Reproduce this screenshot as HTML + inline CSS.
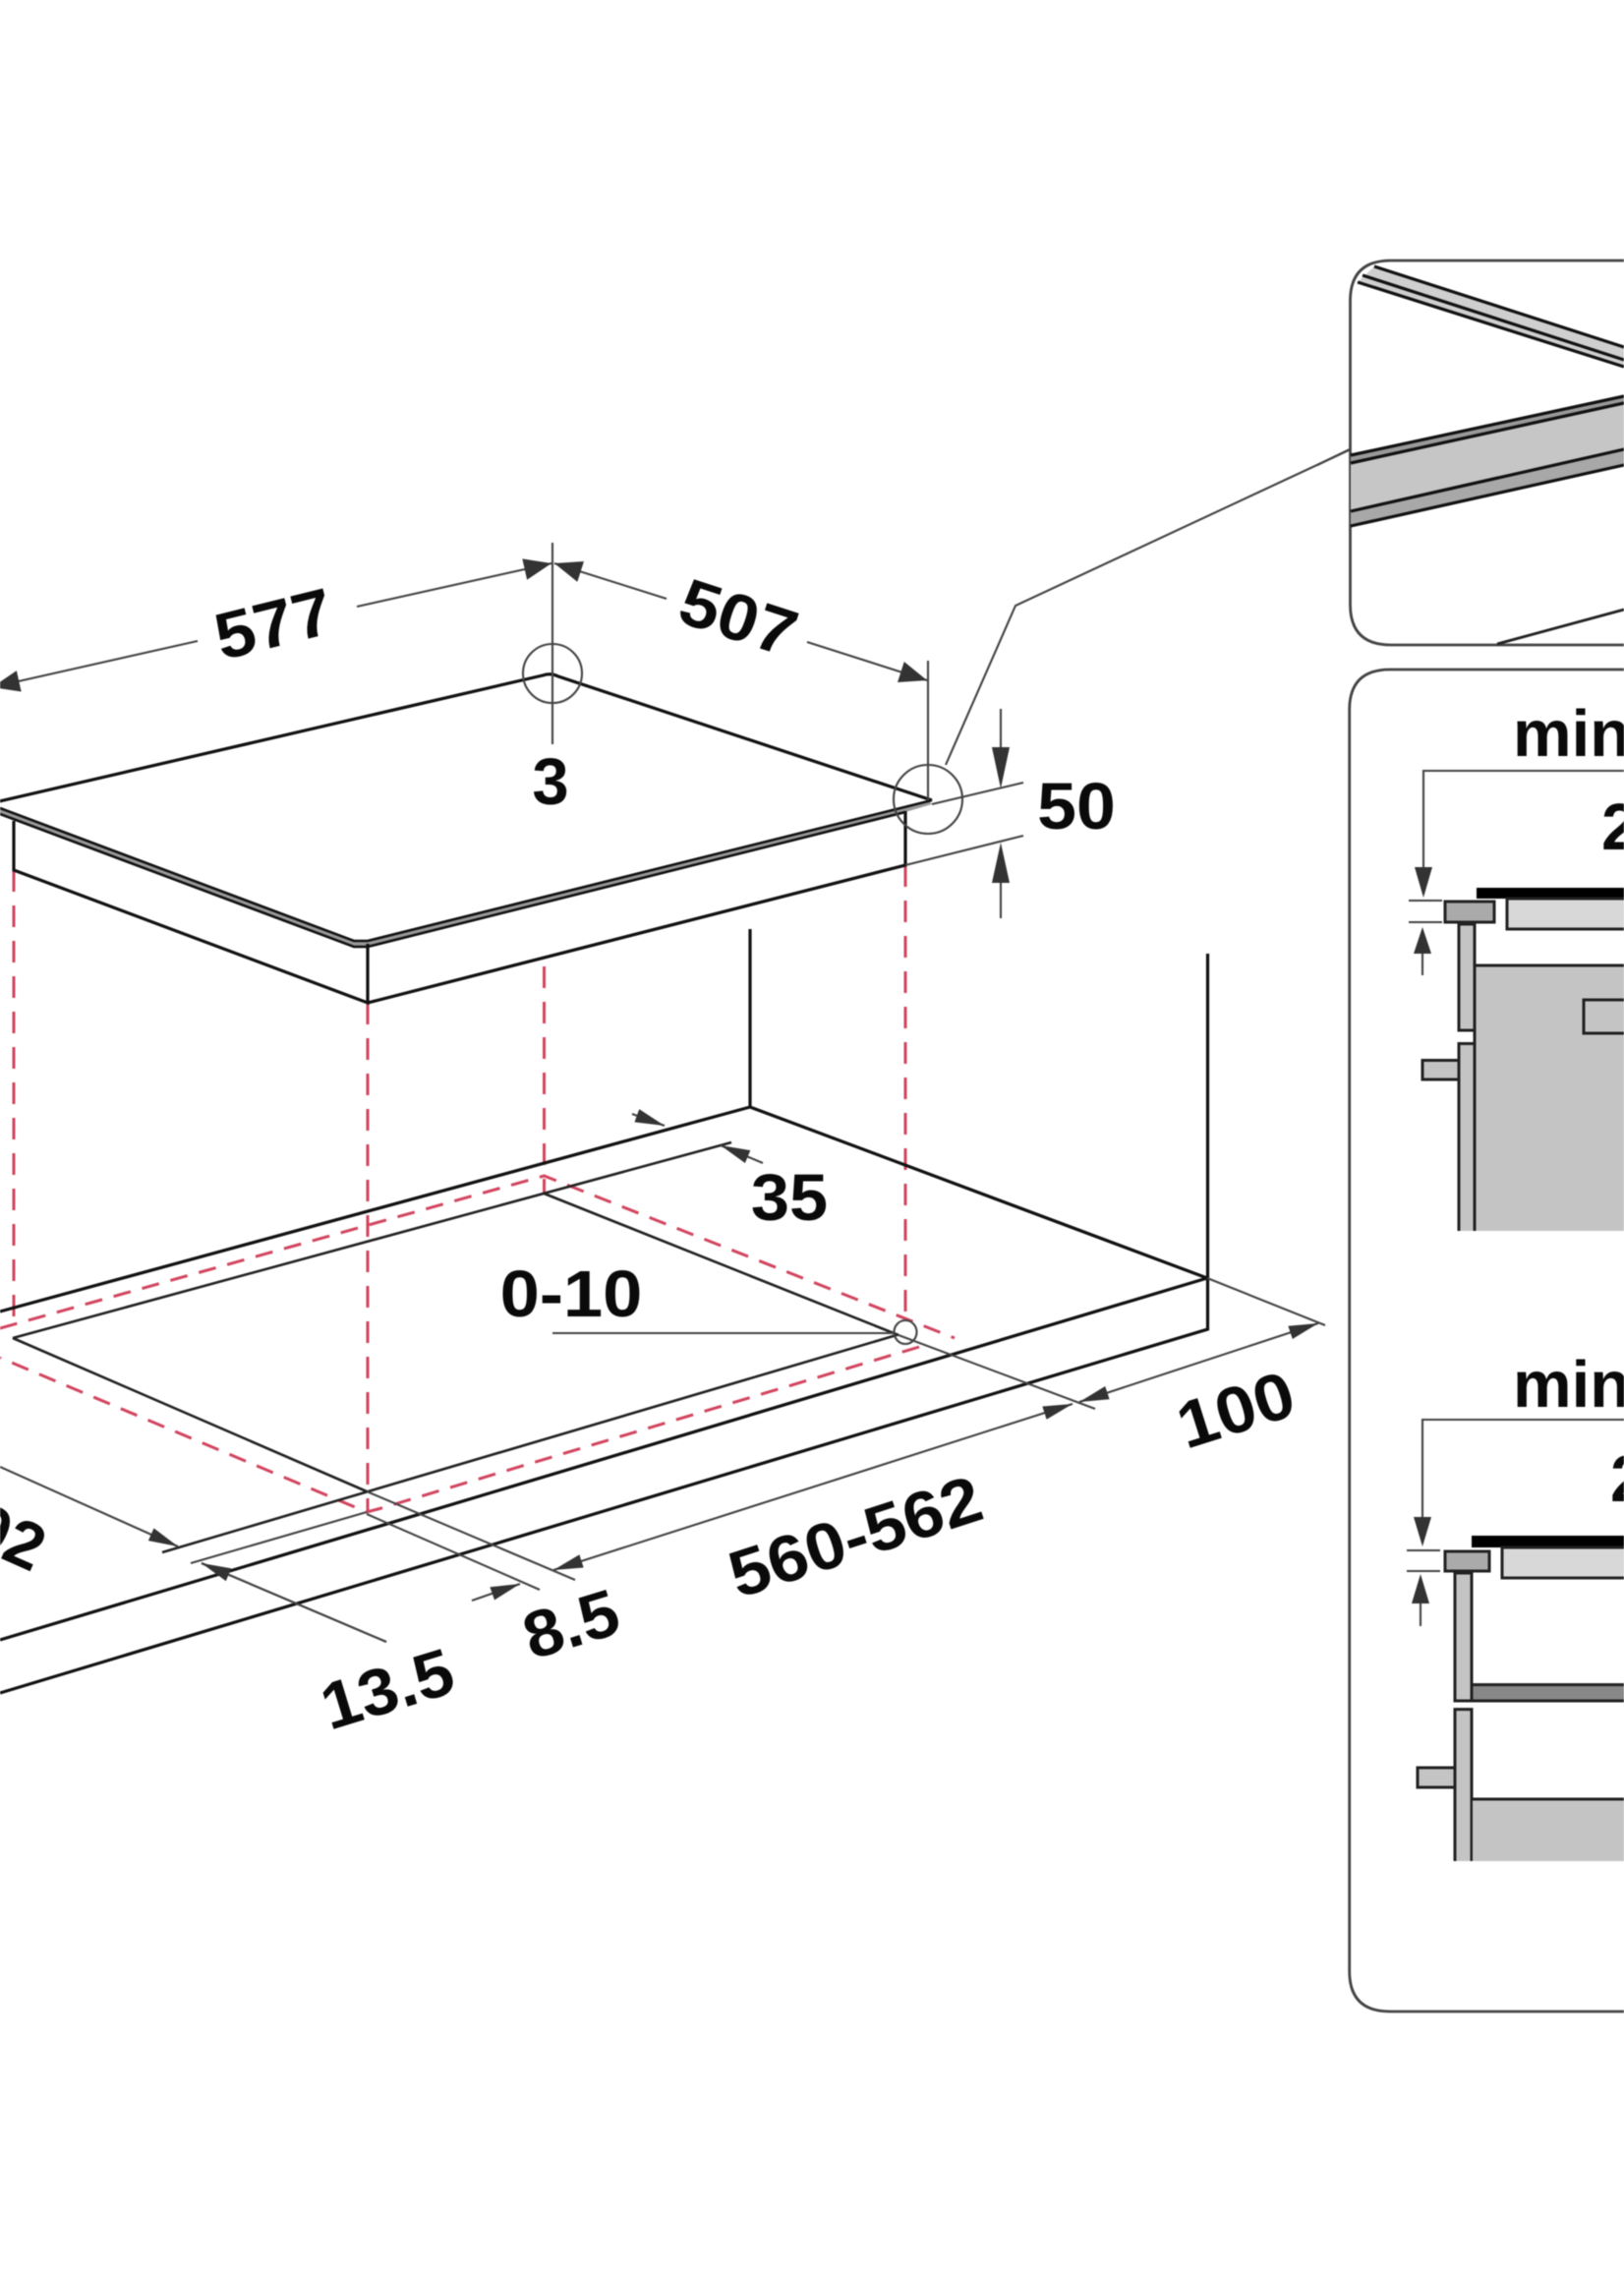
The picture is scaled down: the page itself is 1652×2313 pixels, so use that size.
<!DOCTYPE html>
<html><head><meta charset="utf-8"><style>
html,body{margin:0;padding:0;background:#fff}
svg{display:block;filter:blur(.5px)}
text{font-family:"Liberation Sans",sans-serif;font-weight:700;font-size:67px;fill:#0a0a0a;text-anchor:middle}
.k{stroke:#111;stroke-width:3.2;fill:none}
.t{stroke:#444;stroke-width:2.1;fill:none}
.r{stroke:#d2455f;stroke-width:3;fill:none;stroke-dasharray:22 14}
.d{stroke:#d2455f;stroke-width:3;fill:none;stroke-dasharray:18 12}
.b{stroke:#222;stroke-width:3}
</style></head><body>
<svg width="1652" height="2313" viewBox="0 0 1652 2313" xmlns="http://www.w3.org/2000/svg">
<defs>
<marker id="big" markerUnits="userSpaceOnUse" markerWidth="30" markerHeight="24" refX="28" refY="11" orient="auto-start-reverse"><path d="M0 0L28 11L0 22Z" fill="#333"/></marker>
<marker id="sm" markerUnits="userSpaceOnUse" markerWidth="32" markerHeight="14" refX="30" refY="7" orient="auto-start-reverse"><path d="M0 0L30 7L0 14Z" fill="#333"/></marker>
</defs>
<rect width="1652" height="2313" fill="#fff"/>

<!-- red verticals -->
<path class="r" d="M14 885V1345M374 1020V1538M553.5 983V1214M921 880V1345"/>
<!-- red rect -->
<path class="d" d="M0 1351L553.5 1196L971 1361"/>
<path class="d" d="M935 1370L388 1534L373 1538L0 1381"/>

<!-- hob top -->
<path class="k" d="M-5 816L552 687Q560 684 568 688L948 814"/>
<path d="M0 822L360 957L374 957L945 815L948 818L921 826L374 963L360 963L0 828Z" fill="#999"/>
<path d="M0 822L360 957H374L948 814M0 828L360 963H374L921 826" fill="none" stroke="#111" stroke-width="2.6"/>
<path class="k" d="M14 835V885L374 1020V960M921 825V880L374 1020"/>

<!-- dim 577/507 -->
<path class="t" d="M562 552V757"/>
<ellipse class="t" cx="562" cy="685" rx="30" ry="30"/>
<path class="t" d="M363 617L561 573" marker-end="url(#big)"/>
<path class="t" d="M201 652L-8 699" marker-end="url(#big)"/>
<path class="t" d="M678 609L564 573" marker-end="url(#big)"/>
<path class="t" d="M821 653L943 692" marker-end="url(#big)"/>
<path class="t" d="M944 672V814"/>
<ellipse class="t" cx="944" cy="813" rx="35" ry="35"/>
<path class="t" d="M962 778L1033 616L1374 457"/>
<path class="t" d="M948 818L1041 796M921 880L1041 850"/>
<path class="t" d="M1018 721V760"/><path d="M1009 760H1027L1018 802Z" fill="#333"/>
<path class="t" d="M1018 898V934"/><path d="M1009 898H1027L1018 857Z" fill="#333"/>

<!-- counter -->
<path class="k" d="M763 945V1126L1228 1300M0 1334L763 1126M1228.5 970V1352L0 1722M1228 1300L0 1668"/>
<path stroke="#222" stroke-width="2.6" fill="none" d="M13 1361L744 1162M13 1361L373 1517M553.5 1214L914 1358M165 1579L912 1358"/>
<path class="t" d="M373 1517L585 1607M914 1358L1114 1433M194 1590L373 1538M373 1540L549 1617M205 1590L393 1670"/>
<ellipse class="t" cx="921" cy="1355" rx="11.5" ry="12"/>
<path class="t" stroke-width="2.4" d="M562 1356H910"/>

<!-- small arrows -->
<path class="t" d="M1228 1300L1348 1348"/>
<path class="t" d="M1098 1426L1341 1346" marker-start="url(#sm)" marker-end="url(#sm)"/>
<path class="t" d="M563 1597L1091 1428" marker-start="url(#sm)" marker-end="url(#sm)"/>
<path class="t" d="M776 1183L733 1165" marker-end="url(#sm)"/>
<path class="t" d="M643 1133L676 1145" marker-end="url(#sm)"/>
<path class="t" d="M0 1492L181 1573" marker-end="url(#sm)"/>
<path class="t" d="M480 1628L529 1611" marker-end="url(#sm)"/>
<path class="t" d="M393 1670L205 1590" marker-end="url(#sm)"/>

<!-- labels -->
<text transform="translate(284,657) rotate(-14) scale(1.08,1)">577</text>
<text transform="translate(744,650) rotate(18) scale(1.08,1)">507</text>
<text x="560" y="818">3</text>
<text transform="translate(1095,843) scale(1.07,1)">50</text>
<text transform="translate(581,1339) scale(1.08,1)">0-10</text>
<text transform="translate(803,1241) scale(1.05,1)">35</text>
<text transform="translate(581,1652) rotate(-17) translate(0,23) scale(1.05,1)">8.5</text>
<text transform="translate(394,1718) rotate(-17) translate(0,23) scale(1.05,1)">13.5</text>
<text transform="translate(870,1563) rotate(-18) translate(0,23) scale(1.08,1)">560-562</text>
<text transform="translate(1257,1434) rotate(-17.5) translate(0,23) scale(1.08,1)">100</text>
<text transform="translate(26,1571) rotate(24) translate(18,23)" style="text-anchor:end">490-492</text>

<!-- panel 1 -->
<path d="M1700 265H1415Q1373.5 265 1373.5 306V615Q1373.5 656 1415 656H1700" fill="#fff" stroke="#444" stroke-width="2.8"/>
<path class="t" d="M1340 473L1373 457"/>
<path d="M1398 271L1652 353V373L1381 287Z" fill="#cfcfcf"/>
<path stroke="#111" stroke-width="3.2" fill="none" d="M1398 271L1652 353M1386 280L1652 366M1381 287L1652 373"/>
<path d="M1374 471L1652 410V457L1374 520Z" fill="#c6c6c6"/>
<path d="M1374 520L1652 457V473L1374 535Z" fill="#a8a8a8"/>
<path d="M1374 463L1652 403V410L1374 471Z" fill="#999"/>
<path stroke="#111" stroke-width="3.2" fill="none" d="M1374 463L1652 403M1374 471L1652 410M1374 520L1652 457M1374 535L1652 473"/>
<path stroke="#222" stroke-width="2.8" fill="none" d="M1523 655L1652 620"/>

<!-- panel 2 -->
<path d="M1700 681H1414Q1372.7 681 1372.7 722V2005Q1372.7 2046 1414 2046H1700" fill="#fff" stroke="#444" stroke-width="2.8"/>
<text x="1539" y="769" style="text-anchor:start">min</text>
<text x="1629" y="864" style="text-anchor:start">2</text>
<path class="t" stroke-width="2.4" d="M1652 784H1448V884"/>
<path d="M1439 882H1457L1448 913Z" fill="#333"/>
<path class="t" d="M1433 916H1467M1433 938H1467"/>
<path d="M1438 970H1456L1447 943Z" fill="#333"/>
<path class="t" stroke-width="2.4" d="M1447 970V992"/>
<rect x="1502" y="903" width="160" height="11" fill="#000"/>
<rect x="1533" y="914" width="130" height="31" fill="#d8d8d8" class="b"/>
<rect x="1470" y="917" width="50" height="21" fill="#aaa" class="b"/>
<rect x="1500" y="982" width="160" height="270" fill="#c4c4c4"/>
<path class="b" fill="none" d="M1652 982H1500V1252"/>
<rect x="1484" y="940" width="16" height="108" fill="#c4c4c4" class="b"/>
<path fill="#c4c4c4" class="b" d="M1484 1252V1061.5H1500V1252"/>
<rect x="1447" y="1078.5" width="37" height="19.5" fill="#c4c4c4" class="b"/>
<rect x="1611" y="1017" width="60" height="34" fill="#c4c4c4" class="b"/>

<text x="1539" y="1431" style="text-anchor:start">min</text>
<text x="1638" y="1527" style="text-anchor:start">2</text>
<path class="t" stroke-width="2.4" d="M1652 1444H1447V1545"/>
<path d="M1438 1543H1456L1447 1573Z" fill="#333"/>
<path class="t" d="M1431 1577H1465M1431 1598H1465"/>
<path d="M1436 1631H1454L1445 1601Z" fill="#333"/>
<path class="t" stroke-width="2.4" d="M1445 1631V1654"/>
<rect x="1497" y="1562" width="165" height="12" fill="#000"/>
<rect x="1528" y="1574" width="135" height="31" fill="#d8d8d8" class="b"/>
<rect x="1470" y="1578" width="45" height="20" fill="#aaa" class="b"/>
<rect x="1480" y="1600" width="17" height="130" fill="#c4c4c4" class="b"/>
<rect x="1497" y="1713.6" width="165" height="16.4" fill="#888" class="b"/>
<path fill="#c4c4c4" class="b" d="M1480 1893V1738.6H1497V1893"/>
<rect x="1442" y="1798" width="38" height="20" fill="#c4c4c4" class="b"/>
<rect x="1498" y="1830" width="160" height="63" fill="#c4c4c4"/>
<path class="b" fill="none" d="M1652 1830H1497"/>
</svg>
</body></html>
